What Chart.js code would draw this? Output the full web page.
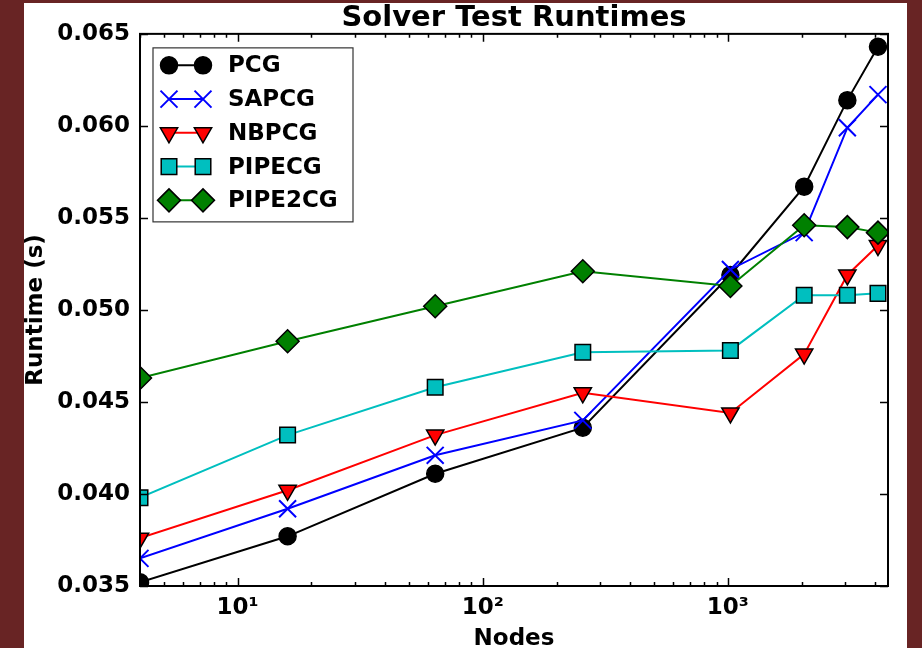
<!DOCTYPE html>
<html>
<head>
<meta charset="utf-8">
<script src="https://cdn.jsdelivr.net/npm/chart.js@4.4.1/dist/chart.umd.min.js"></script>
<style>
  html, body { margin: 0; padding: 0; overflow: hidden; }
  body { width: 922px; height: 648px; background: #682424; position: relative; }
  #panel { position: absolute; left: 24px; top: 3px; width: 883px; height: 645px; background: #fff; }
  #chart { position: absolute; left: 0; top: 0; }
</style>
</head>
<body>
<div id="panel"></div>
<canvas id="chart" width="922" height="648"></canvas>
<script>
const titleText = 'Solver Test Runtimes';
const xTitle = 'Nodes';
const yTitle = 'Runtime (s)';

const nodes = [4, 16, 64, 256, 1024, 2048, 3072, 4096];
const pcg     = [0.0352, 0.0377, 0.0411, 0.0436, 0.0519, 0.0567, 0.0614, 0.0643];
const sapcg   = [0.0365, 0.0392, 0.0421, 0.0440, 0.0522, 0.0542, 0.0599, 0.0617];
const nbpcg   = [0.0376, 0.0402, 0.0432, 0.0455, 0.0444, 0.0476, 0.0519, 0.0535];
const pipecg  = [0.0398, 0.0432, 0.0458, 0.0477, 0.0478, 0.0508, 0.0508, 0.0509];
const pipe2cg = [0.0463, 0.0483, 0.0502, 0.0521, 0.0513, 0.0546, 0.0545, 0.0542];

const xTickValues = [10, 100, 1000];
const xTickLabels = ['10\u00b9', '10\u00b2', '10\u00b3'];
const yMin = 0.035, yMax = 0.065, yStep = 0.005;
const xMin = 4, xMax = 4500;

const FONT = 'DejaVu Sans';

function pts(values) {
    return nodes.map((n, i) => ({ x: n, y: values[i] }));
}

function series(label, values, color, style, extra) {
    return Object.assign({
        label: label,
        data: pts(values),
        borderColor: color,
        backgroundColor: color,
        borderWidth: 2,
        pointStyle: style,
        pointBorderColor: '#000',
        pointBackgroundColor: color,
        pointBorderWidth: 1.5,
        pointRadius: 9,
        pointHoverRadius: 9,
        tension: 0,
        clip: 0
    }, extra);
}

const datasets = [
    series('PCG', pcg, '#000000', 'circle', { pointRadius: 8.5, order: 5 }),
    series('SAPCG', sapcg, '#0000ff', 'crossRot', { pointRadius: 12, pointBorderColor: '#0000ff', pointBorderWidth: 2, order: 4 }),
    series('NBPCG', nbpcg, '#ff0000', 'triangle', { pointRadius: 10, pointRotation: 180, order: 3 }),
    series('PIPECG', pipecg, '#00bfbf', 'rect', { pointRadius: 11, order: 2 }),
    series('PIPE2CG', pipe2cg, '#008000', 'rectRot', { pointRadius: 11.5, order: 1 })
];

// frame, inward ticks and the matplotlib-like legend
const decorPlugin = {
    id: 'decor',
    afterDatasetsDraw(chart) {
        const { ctx, chartArea: a, scales: { x, y } } = chart;
        ctx.save();
        ctx.strokeStyle = '#000';
        ctx.lineWidth = 1.5;
        ctx.beginPath();
        y.ticks.forEach(t => {
            const py = Math.round(y.getPixelForValue(t.value)) + 0.5;
            ctx.moveTo(a.left, py); ctx.lineTo(a.left + 8, py);
            ctx.moveTo(a.right, py); ctx.lineTo(a.right - 8, py);
        });
        xTickValues.forEach(v => {
            const px = Math.round(x.getPixelForValue(v)) + 0.5;
            ctx.moveTo(px, a.bottom); ctx.lineTo(px, a.bottom - 8);
            ctx.moveTo(px, a.top); ctx.lineTo(px, a.top + 8);
        });
        for (let d = 1; d <= 1000; d *= 10) {
            for (let k = 2; k <= 9; k++) {
                const v = k * d;
                if (v < xMin || v > xMax) continue;
                const px = Math.round(x.getPixelForValue(v)) + 0.5;
                ctx.moveTo(px, a.bottom); ctx.lineTo(px, a.bottom - 4);
                ctx.moveTo(px, a.top); ctx.lineTo(px, a.top + 4);
            }
        }
        ctx.stroke();

        ctx.lineWidth = 2;
        ctx.strokeRect(a.left, a.top, a.right - a.left, a.bottom - a.top);

        // legend
        const lx = a.left + 13, ly = a.top + 14, lw = 200, lh = 174;
        ctx.fillStyle = '#fff';
        ctx.fillRect(lx, ly, lw, lh);
        ctx.strokeStyle = '#333';
        ctx.lineWidth = 1.2;
        ctx.strokeRect(lx, ly, lw, lh);
        ctx.font = 'bold 23px "' + FONT + '"';
        ctx.textBaseline = 'middle';
        ctx.textAlign = 'left';
        chart.data.datasets.forEach((ds, i) => {
            const ry = ly + 17.5 + i * 33.75;
            const x1 = lx + 16, x2 = lx + 50;
            ctx.strokeStyle = ds.borderColor;
            ctx.lineWidth = ds.borderWidth;
            ctx.beginPath();
            ctx.moveTo(x1, ry); ctx.lineTo(x2, ry);
            ctx.stroke();
            [x1, x2].forEach(px => {
                ctx.fillStyle = ds.pointBackgroundColor;
                ctx.strokeStyle = ds.pointBorderColor;
                ctx.lineWidth = ds.pointBorderWidth;
                Chart.helpers.drawPoint(ctx, {
                    pointStyle: ds.pointStyle,
                    rotation: ds.pointRotation || 0,
                    radius: ds.pointRadius,
                    borderWidth: ds.pointBorderWidth
                }, px, ry);
            });
            ctx.fillStyle = '#000';
            ctx.fillText(ds.label, lx + 75, ry + 1);
        });
        ctx.restore();
    }
};

const tickFont = { family: FONT, size: 23, weight: 'bold' };

new Chart(document.getElementById('chart'), {
    type: 'line',
    data: { datasets: datasets },
    plugins: [decorPlugin],
    options: {
        responsive: false,
        animation: false,
        events: [],
        layout: { padding: { left: 22, right: 34, top: 0, bottom: 0 } },
        plugins: {
            legend: { display: false },
            tooltip: { enabled: false },
            title: {
                display: true,
                text: titleText,
                fullSize: false,
                color: '#000',
                font: { family: FONT, size: 29, weight: 'bold', lineHeight: 1.03 },
                padding: { top: 4, bottom: 0 }
            }
        },
        scales: {
            x: {
                type: 'logarithmic',
                min: xMin,
                max: xMax,
                grid: { display: false, drawTicks: false },
                border: { display: false },
                afterBuildTicks: s => { s.ticks = xTickValues.map(v => ({ value: v, major: true })); },
                afterFit: s => { s.height = 62; },
                ticks: {
                    color: '#000',
                    font: tickFont,
                    padding: 8,
                    autoSkip: false,
                    maxRotation: 0,
                    callback: v => xTickLabels[xTickValues.indexOf(v)]
                },
                title: {
                    display: true,
                    text: xTitle,
                    color: '#000',
                    font: tickFont,
                    padding: { top: 0, bottom: -5 }
                }
            },
            y: {
                min: yMin,
                max: yMax,
                grid: { display: false, drawTicks: false },
                border: { display: false },
                afterFit: s => { s.width = 118; },
                ticks: {
                    stepSize: yStep,
                    color: '#000',
                    font: tickFont,
                    padding: 10,
                    callback: v => v.toFixed(3)
                },
                title: {
                    display: true,
                    text: yTitle,
                    color: '#000',
                    font: tickFont,
                    padding: 0
                }
            }
        }
    }
});
</script>
</body>
</html>
